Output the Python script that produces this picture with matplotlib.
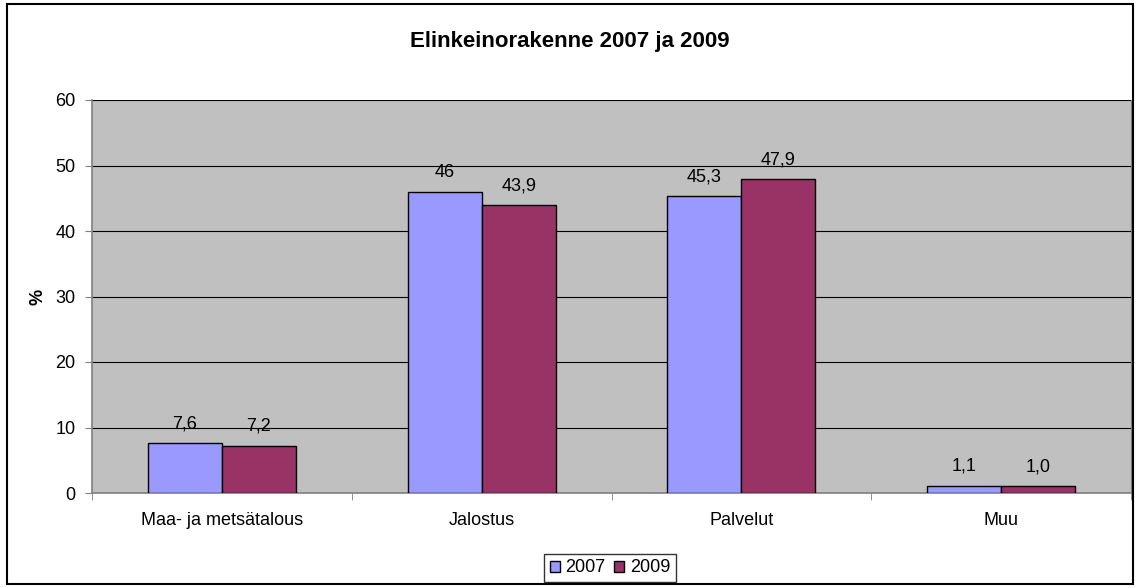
import matplotlib
matplotlib.use("Agg")
import matplotlib.pyplot as plt
from matplotlib.patches import Rectangle
import numpy as np

categories = ["Maa- ja metsätalous", "Jalostus", "Palvelut", "Muu"]
series_names = ["2007", "2009"]
values_2007 = [7.6, 46, 45.3, 1.1]
values_2009 = [7.2, 43.9, 47.9, 1.0]
labels_2007 = ["7,6", "46", "45,3", "1,1"]
labels_2009 = ["7,2", "43,9", "47,9", "1,0"]
yticks = [0, 10, 20, 30, 40, 50, 60]

plt.rcParams['font.family'] = ['Liberation Sans', 'DejaVu Sans']
FS = 13

fig = plt.figure(figsize=(11.4, 5.88), dpi=100)
ax = fig.add_axes([92/1140, 1-493/588, (1131-92)/1140, (493-100)/588])
ax.set_facecolor("#C0C0C0")

x = np.arange(len(categories))
w = 0.285
b1 = ax.bar(x - w/2, values_2007, w, color="#9999FF", edgecolor="black", linewidth=1, label=series_names[0], zorder=3)
b2 = ax.bar(x + w/2, values_2009, w, color="#993366", edgecolor="black", linewidth=1, label=series_names[1], zorder=3)

for bars, labs in ((b1, labels_2007), (b2, labels_2009)):
    for r, lab in zip(bars, labs):
        ax.annotate(lab, (r.get_x() + r.get_width()/2, r.get_height()),
                    xytext=(0, 8), textcoords="offset points",
                    ha="center", va="bottom", fontsize=FS)

ax.set_xlim(-0.5, len(categories) - 0.5)
ax.set_ylim(0, 60)
ax.set_yticks(yticks)
ax.set_yticklabels([str(t) for t in yticks], fontsize=FS)
ax.yaxis.grid(True, color="black", linewidth=0.8, zorder=0)
ax.set_axisbelow(True)

ax.set_xticks(x)
ax.set_xticklabels(categories, fontsize=FS)
ax.tick_params(axis="x", length=0, pad=14)
ax.set_xticks(np.arange(len(categories) + 1) - 0.5, minor=True)
ax.tick_params(axis="x", which="minor", length=5, color="#808080", direction="out")
ax.tick_params(axis="y", length=5, color="#808080", direction="out", pad=7)

for s in ["left", "bottom"]:
    ax.spines[s].set_color("#808080")
    ax.spines[s].set_linewidth(1.2)
ax.spines["right"].set_color("#808080")
ax.spines["top"].set_visible(False)

ax.set_ylabel("%", fontsize=FS, fontweight="bold", labelpad=6)

fig.text(0.5, 1 - 42/588, "Elinkeinorakenne 2007 ja 2009", ha="center", va="center",
         fontsize=16, fontweight="bold")

leg = fig.legend(handles=[b1, b2], labels=series_names, loc="center",
                 bbox_to_anchor=(610/1140, 1 - 568/588), ncol=2, frameon=True,
                 fancybox=False, edgecolor="black", fontsize=FS,
                 handlelength=0.55, handleheight=0.55, handletextpad=0.3,
                 columnspacing=0.5, borderpad=0.3, borderaxespad=0)
leg.get_frame().set_linewidth(1)

fig.patches.append(Rectangle((7/1140, 4/588), 1126/1140, 580/588, transform=fig.transFigure,
                             fill=False, edgecolor="black", linewidth=1.5))

fig.savefig("out.png", dpi=100)
